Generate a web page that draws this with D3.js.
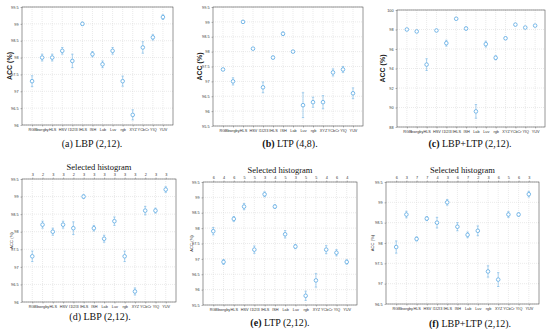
<!DOCTYPE html>
<html>
<head>
<meta charset="utf-8">
<script src="https://cdn.jsdelivr.net/npm/d3@7"></script>
<style>
  body { margin: 0; background: #fff; }
  svg { display: block; }
  .tick text { font-family: "Liberation Sans", Arial, sans-serif; fill: #333; }
  .cap { font-family: "Liberation Serif", "DejaVu Serif", serif; fill: #111; }
</style>
</head>
<body>
<div id="fig"></div>
<script>
const CATEGORIES = ["RGB", "bwrgby", "HLS", "HSV", "I1I2I3", "IHLS", "ISH", "Lab", "Luv", "rgb", "XYZ", "YCbCr", "YIQ", "YUV"];

// (a) LBP (2,12)
const ACC_A = [97.3, 98.0, 98.0, 98.2, 97.9, 99.0, 98.1, 97.8, 98.2, 97.3, 96.3, 98.3, 98.6, 99.2];
const ERR_A = [0.16, 0.1, 0.1, 0.1, 0.2, 0.05, 0.08, 0.1, 0.1, 0.15, 0.15, 0.17, 0.08, 0.07];
// (b) LTP (4,8)
const ACC_B = [97.4, 97.0, 99.0, 98.1, 96.8, 97.8, 98.6, 98.0, 96.2, 96.3, 96.3, 97.3, 97.4, 96.6];
const ERR_B = [0.03, 0.12, 0.04, 0.03, 0.18, 0.05, 0.06, 0.03, 0.42, 0.17, 0.22, 0.12, 0.1, 0.18];
// (c) LBP+LTP (2,12)
const ACC_C = [98.0, 97.8, 94.4, 97.9, 96.6, 99.1, 98.1, 89.6, 96.5, 95.1, 97.1, 98.5, 98.2, 98.4];
const ERR_C = [0.1, 0.1, 0.6, 0.1, 0.3, 0.08, 0.15, 0.7, 0.3, 0.2, 0.12, 0.1, 0.08, 0.08];
// (d) LBP (2,12), selected histogram
const ACC_D = [97.3, 98.2, 98.0, 98.2, 98.1, 99.0, 98.1, 97.8, 98.3, 97.3, 96.3, 98.6, 98.6, 99.2];
const ERR_D = [0.15, 0.1, 0.1, 0.1, 0.18, 0.05, 0.08, 0.1, 0.12, 0.15, 0.1, 0.12, 0.07, 0.08];
const SEL_D = [3, 2, 3, 3, 2, 3, 3, 3, 3, 3, 3, 2, 3, 3];
// (e) LTP (2,12), selected histogram
const ACC_E = [97.9, 96.9, 98.3, 98.7, 97.3, 99.1, 98.7, 97.8, 97.4, 95.8, 96.3, 97.3, 97.2, 96.9];
const ERR_E = [0.12, 0.08, 0.08, 0.1, 0.12, 0.08, 0.06, 0.12, 0.07, 0.15, 0.22, 0.13, 0.1, 0.07];
const SEL_E = [6, 4, 6, 5, 5, 3, 4, 5, 3, 5, 5, 4, 6, 4];
// (f) LBP+LTP (2,12), selected histogram
const ACC_F = [97.9, 98.7, 98.1, 98.6, 98.5, 99.0, 98.4, 98.2, 98.3, 97.3, 97.1, 98.7, 98.7, 99.2];
const ERR_F = [0.15, 0.08, 0.05, 0.05, 0.13, 0.07, 0.1, 0.07, 0.12, 0.14, 0.17, 0.07, 0.04, 0.07];
const SEL_F = [6, 3, 7, 7, 4, 3, 6, 7, 2, 3, 6, 5, 6, 3];

const COLOR = "#5aa8e2";

const PANELS = [
  {tag: "(a)", bold: false, rest: " LBP (2,12).", acc: ACC_A, err: ERR_A, dom: [96, 99.5], step: 0.5,
   x0: 22, x1: 173, y0: 7, y1: 125, labX: 10, capX: 92, capY: 147, big: true},
  {tag: "(b)", bold: true, rest: " LTP (4,8).", acc: ACC_B, err: ERR_B, dom: [95.5, 99.5], step: 0.5,
   x0: 213, x1: 363, y0: 7, y1: 126, labX: 200, capX: 290, capY: 147, big: true},
  {tag: "(c)", bold: true, rest: " LBP+LTP (2,12).", acc: ACC_C, err: ERR_C, dom: [88, 100], step: 2,
   x0: 397, x1: 545, y0: 10, y1: 127, labX: 383, capX: 470, capY: 147, big: true},
  {tag: "(d)", bold: false, rest: " LBP (2,12).", acc: ACC_D, err: ERR_D, sel: SEL_D, dom: [96, 99.5], step: 0.5,
   x0: 22, x1: 176, y0: 179, y1: 302, labX: 12, capX: 100, capY: 320, big: false},
  {tag: "(e)", bold: true, rest: " LTP (2,12).", acc: ACC_E, err: ERR_E, sel: SEL_E, dom: [95.5, 99.5], step: 0.5,
   x0: 203, x1: 357, y0: 182, y1: 305, labX: 192, capX: 280, capY: 326, big: false},
  {tag: "(f)", bold: true, rest: " LBP+LTP (2,12).", acc: ACC_F, err: ERR_F, sel: SEL_F, dom: [96.5, 99.5], step: 0.5,
   x0: 386, x1: 539, y0: 182, y1: 304, labX: 373, capX: 470, capY: 327, big: false}
];

const svg = d3.select("#fig").append("svg")
  .attr("width", 550)
  .attr("height", 329);

PANELS.forEach(function(p){
  // xlim [0, 15]: one category step of margin on each side
  const x = d3.scalePoint().domain(CATEGORIES).range([p.x0, p.x1]).padding(1);
  const y = d3.scaleLinear().domain(p.dom).range([p.y1, p.y0]);
  const yTicks = d3.range(p.dom[0], p.dom[1] + p.step / 2, p.step);
  const g = svg.append("g");

  // grid
  g.selectAll("line.gx").data(CATEGORIES).enter().append("line")
    .attr("x1", d => x(d)).attr("x2", d => x(d))
    .attr("y1", p.y0).attr("y2", p.y1)
    .attr("stroke", "#d4d4d4").attr("stroke-width", 0.5).attr("stroke-dasharray", "1,1");
  g.selectAll("line.gy").data(yTicks).enter().append("line")
    .attr("x1", p.x0).attr("x2", p.x1)
    .attr("y1", d => y(d)).attr("y2", d => y(d))
    .attr("stroke", "#d4d4d4").attr("stroke-width", 0.5).attr("stroke-dasharray", "1,1");

  // axes
  const fmt = d => (p.step >= 1 ? d3.format("d")(d) : (d % 1 === 0 ? d3.format("d")(d) : d3.format(".1f")(d)));
  const ax = g.append("g").attr("transform", "translate(" + p.x0 + ",0)")
    .call(d3.axisLeft(y).tickValues(yTicks).tickFormat(fmt).tickSize(1.5).tickPadding(2));
  const bx = g.append("g").attr("transform", "translate(0," + p.y1 + ")")
    .call(d3.axisBottom(x).tickSize(1.5).tickPadding(1.5));
  [ax, bx].forEach(function(a){
    a.select(".domain").remove();
    a.selectAll(".tick line").attr("stroke", "#555").attr("stroke-width", 0.4);
    a.selectAll(".tick text").attr("font-size", 3.8);
  });
  g.append("rect")
    .attr("x", p.x0).attr("y", p.y0)
    .attr("width", p.x1 - p.x0).attr("height", p.y1 - p.y0)
    .attr("fill", "none").attr("stroke", "#333").attr("stroke-width", 0.5);

  // y label
  g.append("text")
    .attr("transform", "translate(" + p.labX + "," + ((p.y0 + p.y1) / 2) + ") rotate(-90)")
    .attr("text-anchor", "middle")
    .attr("dominant-baseline", "middle")
    .attr("font-family", "Liberation Sans, Arial, sans-serif")
    .attr("font-size", p.big ? 7 : 4.2)
    .attr("font-weight", p.big ? "bold" : "normal")
    .attr("fill", "#222")
    .text("ACC (%)");

  // selected histogram
  if (p.sel) {
    const tx = g.append("g").attr("transform", "translate(0," + p.y0 + ")")
      .call(d3.axisTop(x).tickSize(1.5).tickPadding(1.5).tickFormat((d, i) => p.sel[i]));
    tx.select(".domain").remove();
    tx.selectAll(".tick line").attr("stroke", "#555").attr("stroke-width", 0.4);
    tx.selectAll(".tick text").attr("font-size", 3.8);
    g.append("text").attr("class", "cap")
      .attr("x", (p.x0 + p.x1) / 2).attr("y", p.y0 - 9)
      .attr("text-anchor", "middle").attr("font-size", 8.5)
      .text("Selected histogram");
  }

  // error bars and markers
  const pts = CATEGORIES.map((c, i) => ({c: c, v: p.acc[i], e: p.err[i]}));
  const eb = g.selectAll("g.eb").data(pts).enter().append("g")
    .attr("stroke", COLOR).attr("stroke-width", 0.5).attr("fill", "none");
  eb.append("line")
    .attr("x1", d => x(d.c)).attr("x2", d => x(d.c))
    .attr("y1", d => y(d.v - d.e)).attr("y2", d => y(d.v + d.e));
  eb.append("line")
    .attr("x1", d => x(d.c) - 1.2).attr("x2", d => x(d.c) + 1.2)
    .attr("y1", d => y(d.v - d.e)).attr("y2", d => y(d.v - d.e));
  eb.append("line")
    .attr("x1", d => x(d.c) - 1.2).attr("x2", d => x(d.c) + 1.2)
    .attr("y1", d => y(d.v + d.e)).attr("y2", d => y(d.v + d.e));
  eb.append("circle")
    .attr("cx", d => x(d.c)).attr("cy", d => y(d.v)).attr("r", 1.8)
    .attr("stroke-width", 0.8).attr("fill", "#fff");

  // caption
  const cap = svg.append("text").attr("class", "cap")
    .attr("x", p.capX).attr("y", p.capY)
    .attr("text-anchor", "middle").attr("font-size", 10);
  cap.append("tspan").attr("font-weight", p.bold ? "bold" : "normal").text(p.tag);
  cap.append("tspan").text(p.rest);
});
</script>
</body>
</html>
